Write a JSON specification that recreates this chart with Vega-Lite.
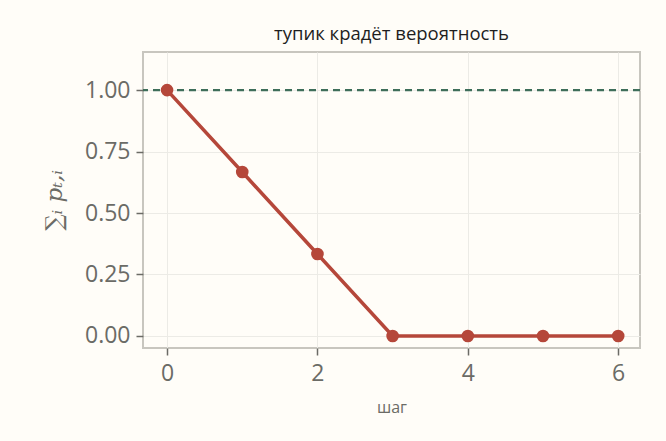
{
  "$schema": "https://vega.github.io/schema/vega-lite/v6.json",
  "width": 497,
  "height": 296,
  "autosize": {"type": "none"},
  "padding": {"left": 143, "top": 52, "right": 26, "bottom": 93},
  "background": "#fffdf8",
  "title": {"text": "тупик крадёт вероятность", "fontSize": 18.5, "fontWeight": "normal", "color": "#1e1e1e", "font": "Open Sans", "offset": 9},
  "config": {
    "view": {"stroke": "#c8c6bf", "strokeWidth": 2},
    "axis": {"labelFont": "Open Sans", "titleFont": "Open Sans", "labelColor": "#6b6b66", "titleColor": "#6b6b66", "gridColor": "#ecebe6", "tickColor": "#6b6b66", "domain": false, "labelFontSize": 23, "titleFontSize": 15, "titleFontWeight": "normal", "tickSize": 7, "tickWidth": 1.5}
  },
  "data": {"values": [
    {"step": 0, "p": 1.0},
    {"step": 1, "p": 0.6667},
    {"step": 2, "p": 0.3333},
    {"step": 3, "p": 0.0},
    {"step": 4, "p": 0.0},
    {"step": 5, "p": 0.0},
    {"step": 6, "p": 0.0}
  ]},
  "layer": [
    {
      "data": {"values": [{"y": 1}]},
      "mark": {"type": "rule", "color": "#3e6e5a", "strokeWidth": 2.2, "strokeDash": [7, 5]},
      "encoding": {"y": {"field": "y", "type": "quantitative"}}
    },
    {
      "mark": {"type": "line", "color": "#b5473a", "strokeWidth": 3.5, "clip": false},
      "encoding": {
        "x": {"field": "step", "type": "quantitative", "scale": {"domain": [-0.32, 6.29], "nice": false, "zero": false}, "axis": {"values": [0, 2, 4, 6], "format": "d", "title": "шаг", "titleFontSize": 16, "titlePadding": 14, "labelPadding": 7, "grid": true}},
        "y": {"field": "p", "type": "quantitative", "scale": {"domain": [-0.049, 1.155], "nice": false, "zero": false}, "axis": {"values": [0, 0.25, 0.5, 0.75, 1.0], "format": ".2f", "title": "∑ᵢ pₜ,ᵢ", "titleFont": "DejaVu Serif", "titleFontStyle": "italic", "titleFontSize": 23, "titlePadding": 18, "labelPadding": 6, "grid": true}}
      }
    },
    {
      "mark": {"type": "point", "filled": true, "color": "#b5473a", "size": 160, "opacity": 1},
      "encoding": {
        "x": {"field": "step", "type": "quantitative"},
        "y": {"field": "p", "type": "quantitative"}
      }
    }
  ]
}
